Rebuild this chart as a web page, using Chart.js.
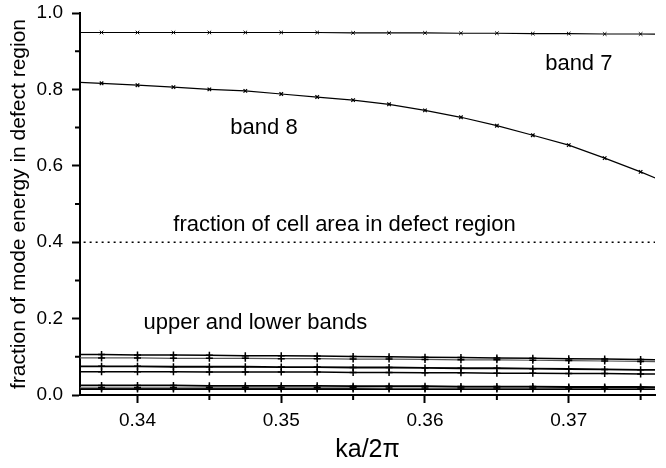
<!DOCTYPE html>
<html>
<head>
<meta charset="utf-8">
<script src="https://cdn.jsdelivr.net/npm/chart.js@4/dist/chart.umd.min.js"></script>
<style>
  html, body { margin: 0; padding: 0; background: #fff; }
  #wrap { width: 666px; height: 468px; }
</style>
</head>
<body>
<div id="wrap"><canvas id="chart"></canvas></div>
<script>
// wave vector ka/2pi, markers every 0.0025 (end points sit just outside the axes)
const kValues = [0.335, 0.3375, 0.34, 0.3425, 0.345, 0.3475, 0.35, 0.3525, 0.355,
                 0.3575, 0.36, 0.3625, 0.365, 0.3675, 0.37, 0.3725, 0.375, 0.3775];

const band7 = [0.949, 0.949, 0.949, 0.949, 0.949, 0.949, 0.949, 0.949, 0.948,
               0.948, 0.948, 0.947, 0.947, 0.946, 0.946, 0.945, 0.945, 0.944];
const band8 = [0.820, 0.816, 0.811, 0.806, 0.800, 0.796, 0.788, 0.780, 0.772,
               0.761, 0.745, 0.727, 0.705, 0.680, 0.654, 0.620, 0.584, 0.545];

// upper and lower bands
const low1 = [0.106, 0.106, 0.105, 0.105, 0.104, 0.103, 0.103, 0.102, 0.101,
              0.100, 0.099, 0.098, 0.097, 0.096, 0.095, 0.094, 0.093, 0.092];
const low2 = [0.097, 0.097, 0.097, 0.096, 0.096, 0.096, 0.095, 0.095, 0.094,
              0.094, 0.093, 0.092, 0.092, 0.091, 0.090, 0.089, 0.088, 0.087];
const low3 = [0.075, 0.075, 0.075, 0.074, 0.074, 0.074, 0.073, 0.073, 0.072,
              0.072, 0.071, 0.070, 0.070, 0.069, 0.068, 0.067, 0.066, 0.065];
const low4 = [0.061, 0.061, 0.061, 0.061, 0.060, 0.060, 0.060, 0.060, 0.059,
              0.059, 0.058, 0.058, 0.057, 0.057, 0.056, 0.056, 0.055, 0.055];
const low5 = [0.025, 0.025, 0.025, 0.025, 0.024, 0.024, 0.024, 0.024, 0.023,
              0.023, 0.023, 0.022, 0.022, 0.022, 0.021, 0.021, 0.021, 0.020];
const low6 = [0.019, 0.019, 0.019, 0.019, 0.019, 0.019, 0.019, 0.019, 0.019,
              0.018, 0.018, 0.018, 0.018, 0.018, 0.018, 0.018, 0.018, 0.018];
const low7 = [0.016, 0.016, 0.016, 0.016, 0.016, 0.016, 0.016, 0.016, 0.016,
              0.016, 0.016, 0.016, 0.016, 0.016, 0.016, 0.016, 0.016, 0.016];

const cellAreaFraction = 0.4;

// tick values
const xMajorTicks = [0.34, 0.35, 0.36, 0.37];
const xMinorTicks = [0.345, 0.355, 0.365, 0.375];
const yMajorTicks = [0.0, 0.2, 0.4, 0.6, 0.8, 1.0];
const yMinorTicks = [0.1, 0.3, 0.5, 0.7, 0.9];

const FONT = "'Liberation Sans', Arial, Helvetica, sans-serif";

function toPoints(values) {
    return values.map((v, i) => ({ x: kValues[i], y: v }));
}

function lowBand(values, width, color) {
    return {
        data: toPoints(values),
        borderColor: color,
        borderWidth: width,
        pointStyle: 'cross',
        pointRadius: 3.5,
        pointBorderWidth: 1.5,
        pointBorderColor: '#000',
    };
}

// short minor tick marks outside the axes
const minorTicks = {
    id: 'minorTicks',
    afterDraw(chart) {
        const { ctx, scales: { x, y } } = chart;
        ctx.save();
        ctx.strokeStyle = '#000';
        ctx.lineWidth = 2;
        ctx.beginPath();
        xMinorTicks.forEach(v => {
            const px = x.getPixelForValue(v);
            ctx.moveTo(px, x.top);
            ctx.lineTo(px, x.top + 5);
        });
        yMinorTicks.forEach(v => {
            const py = y.getPixelForValue(v);
            ctx.moveTo(y.right, py);
            ctx.lineTo(y.right - 5, py);
        });
        ctx.stroke();
        ctx.restore();
    }
};

// text labels inside the plot
const bandLabels = {
    id: 'bandLabels',
    afterDatasetsDraw(chart, args, opts) {
        const { ctx, scales: { x, y } } = chart;
        ctx.save();
        ctx.fillStyle = '#000';
        ctx.font = opts.font;
        ctx.textAlign = 'center';
        ctx.textBaseline = 'middle';
        opts.items.forEach(item => {
            ctx.fillText(item.text, x.getPixelForValue(item.x), y.getPixelForValue(item.y));
        });
        ctx.restore();
    }
};

new Chart(document.getElementById('chart'), {
    type: 'line',
    data: {
        datasets: [
            {
                data: toPoints(band7),
                borderColor: '#000',
                borderWidth: 1.2,
                pointStyle: 'crossRot',
                pointRadius: 2.5,
                pointBorderWidth: 1,
                pointBorderColor: '#000',
            },
            {
                data: toPoints(band8),
                borderColor: '#000',
                borderWidth: 1.2,
                pointStyle: 'crossRot',
                pointRadius: 2.5,
                pointBorderWidth: 1.2,
                pointBorderColor: '#000',
            },
            {
                data: [{ x: kValues[0], y: cellAreaFraction },
                       { x: kValues[kValues.length - 1], y: cellAreaFraction }],
                borderColor: '#000',
                borderWidth: 1.5,
                borderDash: [2, 4],
                pointRadius: 0,
            },
            lowBand(low1, 1.5, '#000'),
            lowBand(low2, 1.2, '#555'),
            lowBand(low3, 1.8, '#000'),
            lowBand(low4, 1.5, '#000'),
            lowBand(low5, 1.8, '#000'),
            lowBand(low6, 1.2, '#666'),
            lowBand(low7, 2, '#000'),
        ]
    },
    options: {
        responsive: true,
        maintainAspectRatio: false,
        animation: false,
        layout: { padding: { top: 13, right: 11, left: 0, bottom: 0 } },
        plugins: {
            legend: { display: false },
            tooltip: { enabled: false },
            bandLabels: {
                font: '22px ' + FONT,
                items: [
                    { text: 'band 7', x: 0.3707, y: 0.866 },
                    { text: 'band 8', x: 0.3488, y: 0.699 },
                    { text: 'fraction of cell area in defect region', x: 0.3544, y: 0.445 },
                    { text: 'upper and lower bands', x: 0.3482, y: 0.188 },
                ]
            }
        },
        scales: {
            x: {
                type: 'linear',
                min: 0.336,
                max: 0.376,
                afterBuildTicks: scale => { scale.ticks = xMajorTicks.map(v => ({ value: v })); },
                afterFit: scale => { scale.height = 73; },
                border: { display: true, color: '#000', width: 2 },
                grid: { drawOnChartArea: false, tickLength: 8, tickWidth: 2, tickColor: '#000' },
                ticks: {
                    color: '#000',
                    font: { family: FONT, size: 19 },
                    padding: 6,
                    maxRotation: 0,
                    callback: v => v.toFixed(2),
                },
                title: {
                    display: true,
                    text: 'ka/2π',
                    color: '#000',
                    font: { family: FONT, size: 25 },
                    padding: { top: 0, bottom: 3 },
                },
            },
            y: {
                min: 0,
                max: 1,
                afterBuildTicks: scale => { scale.ticks = yMajorTicks.map(v => ({ value: v })); },
                afterFit: scale => {
                    scale.width = 80;
                    scale.paddingTop = 0;
                    scale.paddingBottom = 0;
                },
                border: { display: true, color: '#000', width: 2 },
                grid: { drawOnChartArea: false, tickLength: 8, tickWidth: 2, tickColor: '#000' },
                ticks: {
                    color: '#000',
                    font: { family: FONT, size: 19 },
                    padding: 9,
                    callback: v => v.toFixed(1),
                },
                title: {
                    display: true,
                    text: 'fraction of mode energy in defect region',
                    color: '#000',
                    font: { family: FONT, size: 21 },
                    padding: { top: 7, bottom: 0 },
                },
            },
        },
    },
    plugins: [minorTicks, bandLabels],
});
</script>
</body>
</html>
